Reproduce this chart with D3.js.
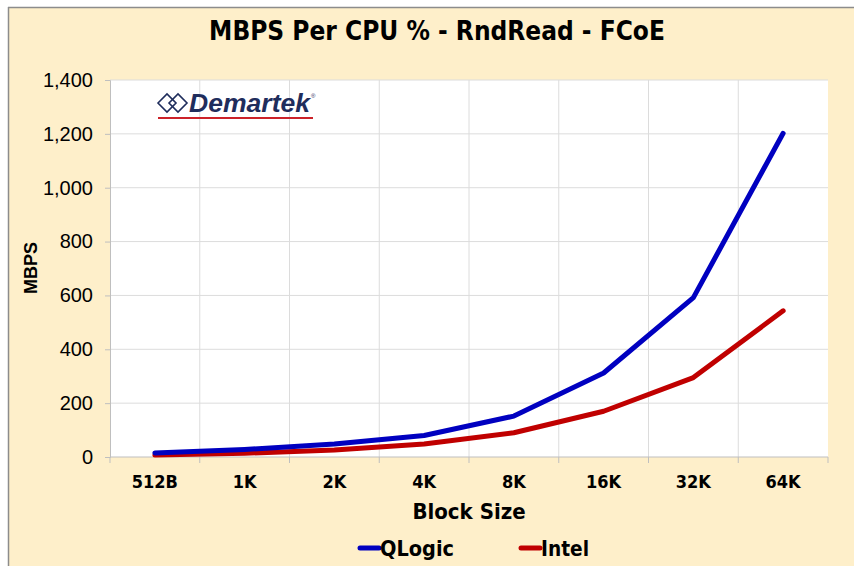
<!DOCTYPE html>
<html>
<head>
<meta charset="utf-8">
<script src="https://cdn.jsdelivr.net/npm/d3@7"></script>
<style>
  body { margin: 0; background: #fff; }
  svg text { fill: #000; }
</style>
</head>
<body>
<svg width="854" height="566"></svg>
<script>
// chart data
const blockSizes = ["512B", "1K", "2K", "4K", "8K", "16K", "32K", "64K"];
const qlogicMbps = [15, 28, 48, 80, 152, 312, 592, 1202];
const intelMbps = [7, 14, 26, 48, 90, 170, 295, 543];
const yTicks = [0, 200, 400, 600, 800, 1000, 1200, 1400];

const series = [
  { name: "QLogic", color: "#0000C0", values: qlogicMbps },
  { name: "Intel", color: "#C00000", values: intelMbps }
];

const svg = d3.select("svg");
const condFont = "'Liberation Sans Narrow', 'DejaVu Sans Condensed', 'Liberation Sans', sans-serif";

// background + frame
svg.append("rect").attr("x", 8).attr("y", 7).attr("width", 846).attr("height", 559)
  .attr("fill", "#FEEFCA");
svg.append("line").attr("x1", 8).attr("x2", 854).attr("y1", 7.5).attr("y2", 7.5)
  .attr("stroke", "#8c8c8c").attr("stroke-width", 1.5);
svg.append("line").attr("x1", 8.5).attr("x2", 8.5).attr("y1", 7).attr("y2", 566)
  .attr("stroke", "#8c8c8c").attr("stroke-width", 1.5);

const margin = { left: 110, right: 828, top: 80, bottom: 457 };

const x = d3.scaleBand().domain(blockSizes).range([margin.left, margin.right]);
const y = d3.scaleLinear().domain([0, 1400]).range([margin.bottom, margin.top]);

// plot area
svg.append("rect")
  .attr("x", margin.left).attr("y", margin.top)
  .attr("width", margin.right - margin.left).attr("height", margin.bottom - margin.top)
  .attr("fill", "#fff");

// gridlines
svg.append("g").selectAll("line").data(yTicks.slice(1)).join("line")
  .attr("x1", margin.left).attr("x2", margin.right)
  .attr("y1", d => y(d)).attr("y2", d => y(d))
  .attr("stroke", "#dcdcdc").attr("stroke-width", 1);
svg.append("g").selectAll("line").data(blockSizes.slice(1)).join("line")
  .attr("x1", d => x(d)).attr("x2", d => x(d))
  .attr("y1", margin.top).attr("y2", margin.bottom)
  .attr("stroke", "#dcdcdc").attr("stroke-width", 1);

// y axis
const yAxis = svg.append("g")
  .attr("transform", `translate(${margin.left},0)`)
  .call(d3.axisLeft(y).tickValues(yTicks).tickFormat(d3.format(",")).tickSize(5).tickPadding(12));
yAxis.select(".domain").attr("stroke", "#bfbfbf");
yAxis.selectAll(".tick line").attr("stroke", "#bfbfbf");
yAxis.selectAll("text").attr("font-family", "'Liberation Sans', Arial, sans-serif")
  .attr("font-size", 20).attr("fill", "#000");

// x axis with ticks at band boundaries
const xAxis = svg.append("g").attr("transform", `translate(0,${margin.bottom})`);
xAxis.append("line").attr("x1", margin.left).attr("x2", margin.right)
  .attr("stroke", "#bfbfbf");
xAxis.selectAll(".bt").data(blockSizes.concat(["end"])).join("line")
  .attr("class", "bt")
  .attr("x1", (d, i) => margin.left + i * x.bandwidth())
  .attr("x2", (d, i) => margin.left + i * x.bandwidth())
  .attr("y1", 0).attr("y2", 6).attr("stroke", "#bfbfbf");
xAxis.selectAll("text").data(blockSizes).join("text")
  .attr("x", d => x(d) + x.bandwidth() / 2)
  .attr("y", 31)
  .attr("text-anchor", "middle")
  .attr("font-family", condFont).attr("font-weight", "bold").attr("font-size", 18)
  .text(d => d);

// axis titles
svg.append("text").attr("x", 469).attr("y", 519).attr("text-anchor", "middle")
  .attr("font-family", condFont).attr("font-weight", "bold").attr("font-size", 22)
  .text("Block Size");
svg.append("text").attr("transform", "translate(37,268) rotate(-90)")
  .attr("text-anchor", "middle")
  .attr("font-family", "'Liberation Sans', Arial, sans-serif").attr("font-weight", "bold").attr("font-size", 18)
  .text("MBPS");

// title
svg.append("text").attr("x", 437).attr("y", 40).attr("text-anchor", "middle")
  .attr("font-family", condFont).attr("font-weight", "bold").attr("font-size", 26)
  .text("MBPS Per CPU % - RndRead - FCoE");

// lines
const line = d3.line()
  .x((d, i) => x(blockSizes[i]) + x.bandwidth() / 2)
  .y(d => y(d));
svg.append("g").selectAll("path").data(series.slice().reverse()).join("path")
  .attr("d", d => line(d.values))
  .attr("fill", "none")
  .attr("stroke", d => d.color)
  .attr("stroke-width", 5)
  .attr("stroke-linecap", "round")
  .attr("stroke-linejoin", "round");

// logo
const logo = svg.append("g").attr("transform", "translate(158,92)");
[0, 11].forEach(dx => {
  logo.append("path")
    .attr("d", `M${dx},11 L${dx + 9},2 L${dx + 18},11 L${dx + 9},20 Z`)
    .attr("fill", "none").attr("stroke", "#1f2d5c").attr("stroke-width", 1.6);
});
logo.append("text").attr("x", 31).attr("y", 20)
  .attr("font-family", "'Liberation Sans', Arial, sans-serif")
  .attr("font-weight", "bold").attr("font-style", "italic").attr("font-size", 25)
  .attr("textLength", 121).attr("lengthAdjust", "spacingAndGlyphs")
  .style("fill", "#1f2d5c")
  .text("Demartek");
logo.append("text").attr("x", 153).attr("y", 6).attr("font-size", 6)
  .attr("font-family", "'Liberation Sans', Arial, sans-serif").style("fill", "#1f2d5c").text("®");
logo.append("line").attr("x1", 0).attr("x2", 155).attr("y1", 26).attr("y2", 26)
  .attr("stroke", "#cc2229").attr("stroke-width", 2);

// legend
const legend = svg.append("g").attr("transform", "translate(358,548)");
const legendX = [0, 161];
const legendW = [74, 48];
series.forEach((s, i) => {
  const g = legend.append("g").attr("transform", `translate(${legendX[i]},0)`);
  g.append("line").attr("x1", 2).attr("x2", 21).attr("y1", 0).attr("y2", 0)
    .attr("stroke", s.color).attr("stroke-width", 5).attr("stroke-linecap", "round");
  g.append("text").attr("x", 22).attr("y", 8)
    .attr("font-family", condFont).attr("font-weight", "bold").attr("font-size", 22)
    .attr("textLength", legendW[i]).attr("lengthAdjust", "spacingAndGlyphs")
    .text(s.name);
});
</script>
</body>
</html>
